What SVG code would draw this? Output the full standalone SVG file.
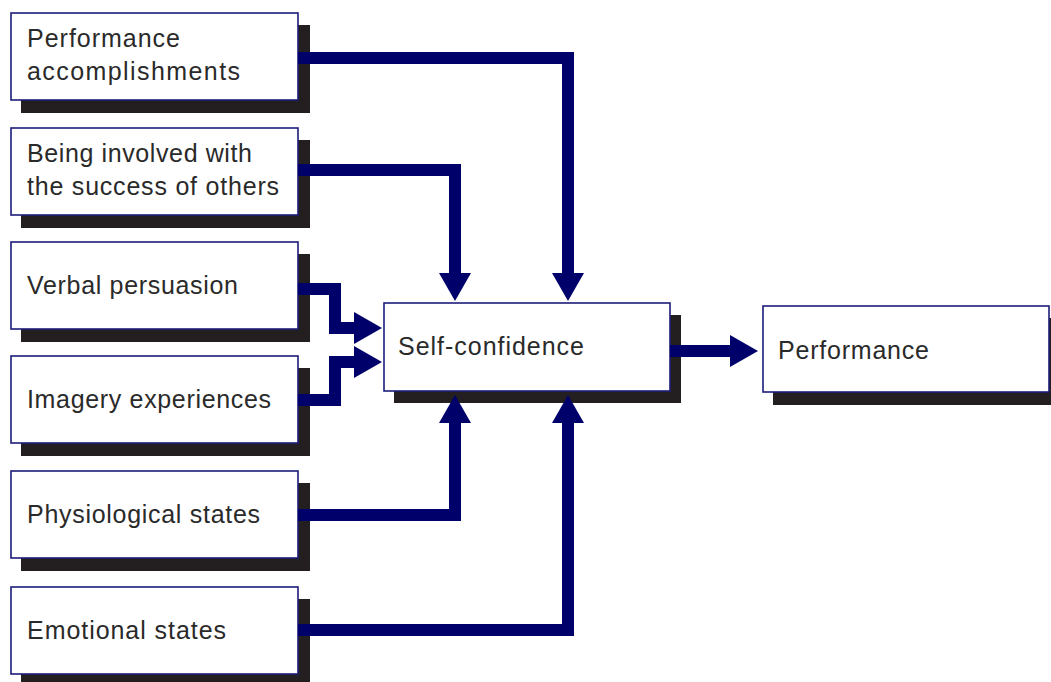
<svg xmlns="http://www.w3.org/2000/svg" width="1051" height="682" viewBox="0 0 1051 682">
  <defs>
    <style>
      .shadow { fill: #231f20; }
      .box { fill: #ffffff; stroke: #1c1c7a; stroke-width: 1.6; }
      .label { font-family: "Liberation Sans", Arial, sans-serif; font-size: 25px; fill: #2a2a2a; }
      .wire { fill: none; stroke: #00006b; stroke-width: 12; stroke-linejoin: miter; stroke-linecap: butt; }
    </style>
    <marker id="head" viewBox="0 0 28 32" refX="0" refY="16" markerWidth="28" markerHeight="32" markerUnits="userSpaceOnUse" orient="auto">
      <polygon points="0,0 28,16 0,32" fill="#00006b"/>
    </marker>
  </defs>
  <rect width="1051" height="682" fill="#ffffff"/>

  <g id="performance-accomplishments">
    <rect class="shadow" x="21" y="25" width="289" height="88"/>
    <rect class="box" x="11" y="13" width="287" height="87"/>
    <text class="label" x="27" y="47" textLength="153" lengthAdjust="spacing">Performance</text>
    <text class="label" x="27" y="80" textLength="213" lengthAdjust="spacing">accomplishments</text>
  </g>

  <g id="involved-with-others">
    <rect class="shadow" x="21" y="140" width="289" height="88"/>
    <rect class="box" x="11" y="128" width="287" height="87"/>
    <text class="label" x="27" y="162" textLength="225" lengthAdjust="spacing">Being involved with</text>
    <text class="label" x="27" y="195" textLength="252" lengthAdjust="spacing">the success of others</text>
  </g>

  <g id="verbal-persuasion">
    <rect class="shadow" x="21" y="254" width="289" height="88"/>
    <rect class="box" x="11" y="242" width="287" height="87"/>
    <text class="label" x="27" y="294" textLength="211" lengthAdjust="spacing">Verbal persuasion</text>
  </g>

  <g id="imagery-experiences">
    <rect class="shadow" x="21" y="368" width="289" height="88"/>
    <rect class="box" x="11" y="356" width="287" height="87"/>
    <text class="label" x="27" y="408" textLength="244" lengthAdjust="spacing">Imagery experiences</text>
  </g>

  <g id="physiological-states">
    <rect class="shadow" x="21" y="483" width="289" height="88"/>
    <rect class="box" x="11" y="471" width="287" height="87"/>
    <text class="label" x="27" y="523" textLength="233" lengthAdjust="spacing">Physiological states</text>
  </g>

  <g id="emotional-states">
    <rect class="shadow" x="21" y="599" width="289" height="88"/>
    <rect class="box" x="11" y="587" width="287" height="87"/>
    <text class="label" x="27" y="639" textLength="199" lengthAdjust="spacing">Emotional states</text>
  </g>

  <g id="self-confidence">
    <rect class="shadow" x="394" y="315" width="287" height="88"/>
    <rect class="box" x="384" y="303" width="286" height="88"/>
    <text class="label" x="398" y="355" textLength="186" lengthAdjust="spacing">Self-confidence</text>
  </g>

  <g id="performance">
    <rect class="shadow" x="773" y="318" width="290" height="87"/>
    <rect class="box" x="763" y="306" width="286" height="86"/>
    <text class="label" x="778" y="359" textLength="151" lengthAdjust="spacing">Performance</text>
  </g>

  <g id="connectors">
    <path class="wire" d="M298 58 H568 V273" marker-end="url(#head)"/>
    <path class="wire" d="M298 170 H455 V273" marker-end="url(#head)"/>
    <path class="wire" d="M298 289 H335 V328 H354" marker-end="url(#head)"/>
    <path class="wire" d="M298 400 H335 V362 H354" marker-end="url(#head)"/>
    <path class="wire" d="M298 515 H455 V423" marker-end="url(#head)"/>
    <path class="wire" d="M298 630 H568 V423" marker-end="url(#head)"/>
    <path class="wire" d="M670 351 H730" marker-end="url(#head)"/>
  </g>
</svg>
